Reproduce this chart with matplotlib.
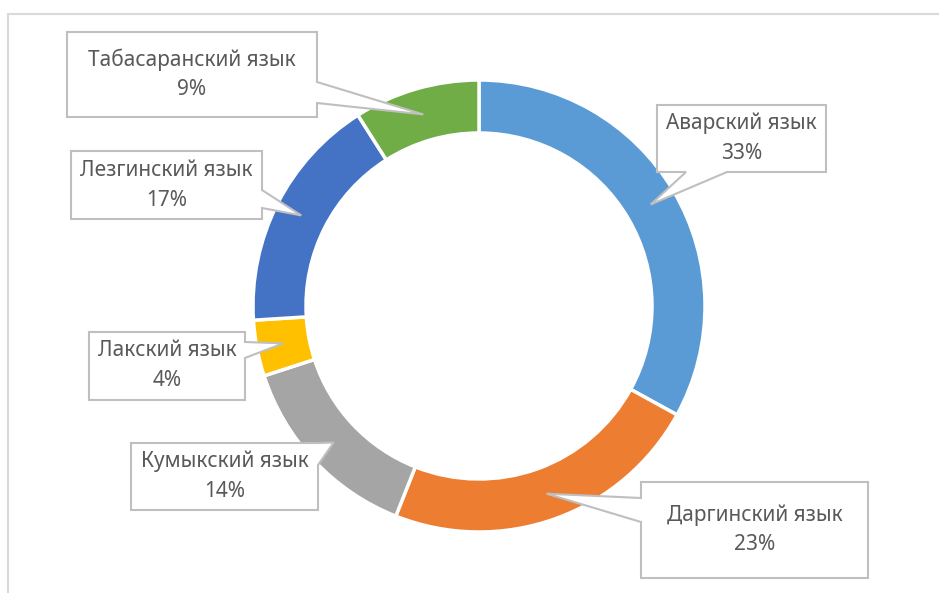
import numpy as np
import matplotlib.pyplot as plt
from matplotlib.patches import Polygon

plt.rcParams["font.family"] = ["Noto Sans", "DejaVu Sans"]

# data
languages = ["Аварский язык", "Даргинский язык", "Кумыкский язык",
             "Лакский язык", "Лезгинский язык", "Табасаранский язык"]
shares = [33, 23, 14, 4, 17, 9]
colors = ["#5B9BD5", "#ED7D31", "#A5A5A5", "#FFC000", "#4472C4", "#70AD47"]

# callout boxes in pixel coords: (x0, y0, x1, y1), pointer side, pointer base
callouts = [
    ((657, 105, 826, 172), "bottom", (686, 727)),
    ((641, 482, 868, 578), "left", (498, 522)),
    ((131, 443, 318, 510), "right", (443, 465)),
    ((89, 332, 245, 400), "right", (342, 358)),
    ((71, 151, 262, 219), "right", (190, 208)),
    ((67, 32, 317, 117), "right", (82, 103)),
]

W, H = 939, 593
fig = plt.figure(figsize=(W / 100, H / 100), dpi=100)
ax = fig.add_axes([0, 0, 1, 1])

cx, cy = 479, H - 306
R, ring = 226, 53
wedges, _ = ax.pie(shares, colors=colors, startangle=90, counterclock=False,
                   radius=R, center=(cx, cy),
                   wedgeprops=dict(width=ring, edgecolor="white", linewidth=2.5))

ax.set_xlim(0, W)
ax.set_ylim(0, H)
ax.set_aspect("auto")
ax.axis("off")

# outer chart frame (left and top)
ax.plot([8, 8, W], [0, H - 14, H - 14], color="#D9D9D9", lw=1.5,
        solid_joinstyle="miter")


def to_d(x, y):
    return (x, H - y)


for w, name, pct, (box, side, base) in zip(wedges, languages, shares, callouts):
    mid = np.deg2rad((w.theta1 + w.theta2) / 2)
    rm = R - ring / 2
    tip = (cx + rm * np.cos(mid), cy + rm * np.sin(mid))
    x0, y0, x1, y1 = box
    b0, b1 = base
    if side == "right":
        pts = [to_d(x0, y0), to_d(x1, y0), to_d(x1, b0), tip, to_d(x1, b1),
               to_d(x1, y1), to_d(x0, y1)]
    elif side == "bottom":
        pts = [to_d(x0, y0), to_d(x1, y0), to_d(x1, y1), to_d(b1, y1), tip,
               to_d(b0, y1), to_d(x0, y1)]
    else:  # left
        pts = [to_d(x0, y0), to_d(x1, y0), to_d(x1, y1), to_d(x0, y1),
               to_d(x0, b1), tip, to_d(x0, b0)]
    ax.add_patch(Polygon(pts, closed=True, facecolor="white",
                         edgecolor="#BFBFBF", lw=1.5, zorder=5))
    xc = (x0 + x1) / 2
    yc = H - (y0 + y1) / 2
    ax.text(xc, yc + 15, name, ha="center", va="center", fontsize=15,
            color="#595959", zorder=6)
    ax.text(xc, yc - 15, f"{pct}%", ha="center", va="center", fontsize=15,
            color="#595959", zorder=6)

fig.savefig("out.png", dpi=100)
